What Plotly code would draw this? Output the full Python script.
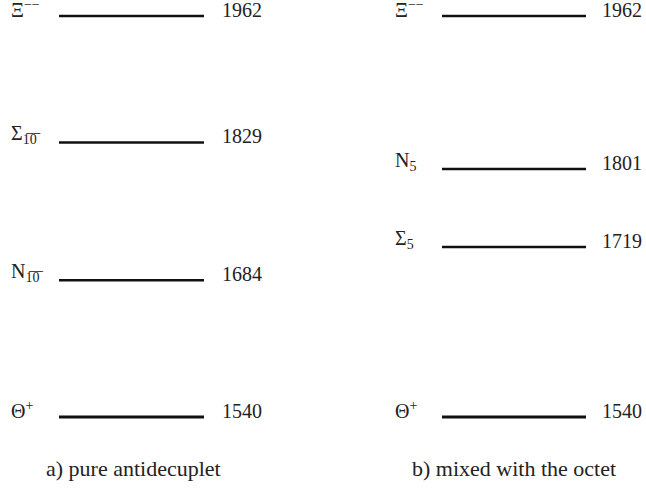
import plotly.graph_objects as go

# level schemes (MeV)
pure_labels = ["Ξ<sup>−−</sup>", "Σ<sub>1̅0̅</sub>", "N<sub>1̅0̅</sub>", "Θ<sup>+</sup>"]
pure_masses = [1962, 1829, 1684, 1540]

mixed_labels = ["Ξ<sup>−−</sup>", "N<sub>5</sub>", "Σ<sub>5</sub>", "Θ<sup>+</sup>"]
mixed_masses = [1962, 1801, 1719, 1540]

captions = ["a) pure antidecuplet", "b) mixed with the octet"]

# column geometry in pixel units (x axis spans the 646 px width)
columns = [
    dict(label_x=9, x0=59, x1=204, num_x=220, cap_x=133),
    dict(label_x=393, x0=442, x1=586, num_x=600, cap_x=514),
]

FONT = "Liberation Serif"
W, H = 646, 502
px_per_mev = 401 / 422
y_top = 1962 + 16 / px_per_mev
y_bot = y_top - H / px_per_mev

fig = go.Figure()
for col, labels, masses in zip(columns, [pure_labels, mixed_labels], [pure_masses, mixed_masses]):
    for lab, m in zip(labels, masses):
        fig.add_trace(go.Scatter(
            x=[col["x0"], col["x1"]], y=[m, m], mode="lines",
            line=dict(color="#111111", width=3 if m == 1540 else 2.5),
            hoverinfo="skip", showlegend=False,
        ))
        fig.add_annotation(x=col["label_x"], y=m, text=lab, showarrow=False,
                           xanchor="left", yanchor="bottom", yshift=-7,
                           font=dict(family=FONT, size=20, color="#222"))
        fig.add_annotation(x=col["num_x"], y=m, text=str(m), showarrow=False,
                           xanchor="left", yanchor="bottom", yshift=-7,
                           font=dict(family=FONT, size=20, color="#222"))

for col, cap in zip(columns, captions):
    fig.add_annotation(x=col["cap_x"], y=y_top - 468 / px_per_mev, text=cap, showarrow=False,
                       xanchor="center", yanchor="middle",
                       font=dict(family=FONT, size=22, color="#222"))

fig.update_xaxes(range=[0, W], visible=False, fixedrange=True)
fig.update_yaxes(range=[y_bot, y_top], visible=False, fixedrange=True)
fig.update_layout(width=W, height=H, margin=dict(l=0, r=0, t=0, b=0),
                  plot_bgcolor="white", paper_bgcolor="white")
fig.write_html("out.html", config={"displayModeBar": False},
               post_script="document.body.style.margin='0';")
